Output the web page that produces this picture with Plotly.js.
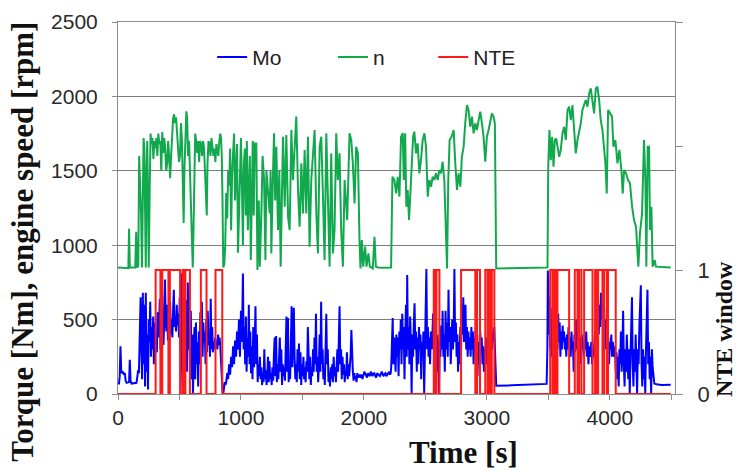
<!DOCTYPE html>
<html>
<head>
<meta charset="utf-8">
<script src="https://cdn.plot.ly/plotly-3.0.1.min.js"></script>
<style>
  html, body { margin: 0; padding: 0; background: #fff; }
  #chart { width: 736px; height: 471px; }
</style>
</head>
<body>
<div id="chart"></div>
<script>
// Engine speed n [rpm] over time [s], as [time, rpm] samples
const engineSpeed = [
  [0,850],[60,850],[84,845],[90,1110],[96,850],[140,850],[148,1090],[155,850],[165,860],[172,1600],
  [180,1450],[188,1200],[195,850],[202,1300],[208,1720],[214,1650],[220,1100],[226,850],[232,1500],[238,1700],
  [244,1300],[250,850],[258,1400],[265,1750],[272,1680],[280,1720],[288,1580],[296,1700],[304,1650],[312,1720],
  [320,1600],[328,1750],[336,1680],[344,1700],[352,1500],[360,1760],[368,1620],[376,1720],[384,1650],[392,1500],
  [400,1550],[408,1700],[416,1600],[424,1450],[432,1600],[440,1800],[448,1850],[456,1880],[464,1820],[472,1860],
  [480,1780],[488,1700],[496,1560],[504,1600],[512,1820],[520,1700],[528,1300],[534,1150],[540,1500],[548,1800],
  [556,1900],[562,1860],[570,1600],[578,1700],[586,1500],[594,1300],[602,1000],[608,850],[614,1100],[620,1500],
  [628,1750],[636,1700],[644,1620],[652,1700],[660,1560],[668,1700],[676,1680],[684,1600],[692,1700],[700,1650],
  [708,1500],[716,1400],[722,1200],[728,1550],[736,1700],[744,1680],[752,1600],[760,1720],[768,1640],[776,1600],
  [784,1650],[792,1560],[800,1680],[808,1650],[816,1600],[824,1700],[832,1750],[838,1720],[844,1600],[850,1300],
  [856,850],[864,870],[872,1000],[880,1350],[888,1180],[896,1500],[904,1400],[912,1650],[920,1100],[928,1480],
  [936,1600],[944,1750],[952,1300],[960,1550],[968,1680],[976,950],[984,1200],[992,1600],[1000,1720],[1008,1400],
  [1016,1000],[1024,1550],[1032,1650],[1040,1200],[1048,1700],[1056,1100],[1064,1450],[1072,1600],[1080,900],[1088,1350],
  [1096,1700],[1104,1200],[1112,1684],[1125,1684],[1134,833],[1145,1300],[1153,856],[1166,1214],[1176,1600],[1188,1438],
  [1199,900],[1207,1500],[1215,1393],[1234,1214],[1241,1500],[1247,945],[1258,1400],[1269,1752],[1278,1300],[1288,1662],
  [1301,1102],[1312,1500],[1323,856],[1332,1300],[1342,1729],[1356,1259],[1369,1740],[1383,1192],[1396,1102],[1410,1774],
  [1423,1438],[1437,1662],[1450,1864],[1464,1371],[1477,1124],[1491,1550],[1504,1214],[1518,1640],[1531,1214],[1545,1729],
  [1558,990],[1572,1438],[1586,1662],[1599,1774],[1613,1214],[1626,945],[1640,1662],[1653,1729],[1667,1326],[1680,900],
  [1694,1752],[1707,1214],[1721,856],[1734,1617],[1748,945],[1761,1102],[1775,1752],[1788,1438],[1802,1617],[1815,1102],
  [1829,856],[1843,1438],[1864,1169],[1883,1752],[1897,1707],[1910,1550],[1924,1281],[1937,1662],[1951,1617],[1964,1035],
  [1972,844],[1983,1035],[1994,856],[2010,990],[2021,856],[2037,945],[2048,856],[2072,844],[2086,1057],[2097,856],
  [2113,850],[2160,848],[2221,850],[2232,1460],[2248,1438],[2262,1348],[2275,1460],[2289,1326],[2302,1729],[2316,1752],
  [2324,1438],[2335,1752],[2345,1259],[2356,1371],[2367,1169],[2378,1348],[2389,1550],[2400,1729],[2410,1763],[2424,1617],
  [2437,1684],[2451,1483],[2464,1572],[2478,1707],[2492,1752],[2505,1662],[2519,1326],[2532,1438],[2546,1393],[2559,1460],
  [2573,1438],[2586,1483],[2600,1438],[2613,1505],[2627,1483],[2640,1561],[2654,1438],[2667,1102],[2676,844],[2686,1438],
  [2697,1707],[2713,1729],[2730,1774],[2743,1550],[2757,1371],[2770,1483],[2784,1393],[2797,1595],[2811,1662],[2824,1819],
  [2838,1942],[2851,1908],[2865,1796],[2879,1864],[2892,1752],[2906,1819],[2919,1774],[2933,1841],[2946,1897],[2960,1819],
  [2973,1729],[2987,1561],[3000,1729],[3014,1774],[3027,1819],[3041,1886],[3054,1864],[3065,1819],[3076,844],[3300,846],
  [3493,850],[3499,1528],[3509,1774],[3520,1572],[3531,1729],[3542,1528],[3553,1707],[3564,1718],[3574,1662],[3588,1595],
  [3601,1640],[3615,1752],[3629,1796],[3642,1707],[3656,1908],[3669,1931],[3683,1841],[3696,1942],[3710,1774],[3723,1617],
  [3737,1707],[3750,1752],[3764,1819],[3777,1908],[3791,1953],[3804,1976],[3818,1931],[3832,2020],[3845,2054],[3859,1976],
  [3872,1886],[3886,2054],[3899,2065],[3913,1976],[3926,1841],[3940,1774],[3953,1662],[3964,1550],[3975,1348],[3986,1908],
  [4002,1886],[4018,1864],[4029,1662],[4045,1707],[4062,1550],[4078,1640],[4094,1505],[4105,1348],[4116,1505],[4132,1483],
  [4148,1438],[4164,1416],[4181,1259],[4197,1169],[4213,1124],[4224,900],[4232,856],[4245,1080],[4262,1214],[4278,1707],
  [4289,1438],[4297,856],[4308,1662],[4319,1662],[4327,1102],[4338,1259],[4348,856],[4365,900],[4375,856],[4495,850]
];

// Engine torque Mo [Nm] over time [s], as [time, Nm] samples
const torque = [
  [0,70],[8,70],[14,120],[20,320],[26,160],[32,140],[40,150],[48,130],[56,140],[62,90],
  [70,75],[80,75],[90,80],[96,230],[102,90],[110,70],[120,70],[130,70],[140,70],[150,75],
  [158,120],[164,160],[170,140],[176,300],[180,450],[184,650],[190,300],[196,100],[202,680],[208,200],
  [214,600],[220,50],[226,680],[232,150],[238,400],[244,30],[250,500],[256,350],[262,620],[268,250],
  [274,450],[280,300],[286,520],[292,200],[298,480],[304,340],[310,420],[316,280],[322,550],[328,380],
  [334,450],[340,640],[346,300],[352,500],[358,720],[364,420],[370,330],[376,480],[382,770],[388,500],
  [394,420],[400,600],[406,360],[412,550],[418,450],[424,620],[430,400],[436,500],[442,380],[448,560],
  [454,700],[460,450],[466,520],[472,420],[478,600],[484,460],[490,540],[496,380],[502,650],[508,300],
  [514,810],[520,200],[526,10],[532,450],[538,100],[544,550],[550,250],[556,630],[562,150],[568,750],
  [574,300],[580,500],[586,200],[592,560],[598,100],[604,400],[610,0],[616,300],[622,450],[628,100],
  [634,480],[640,200],[646,350],[652,50],[658,420],[664,200],[670,550],[676,300],[682,620],[688,250],
  [694,480],[700,350],[706,420],[712,200],[718,500],[724,280],[730,560],[736,330],[742,400],[748,250],
  [754,640],[760,300],[766,450],[772,280],[778,350],[784,300],[790,380],[796,320],[802,360],[808,300],
  [814,400],[820,330],[826,380],[832,320],[838,250],[844,120],[850,30],[856,0],[862,40],[868,80],
  [874,60],[880,80],[888,140],[896,100],[904,200],[912,130],[920,250],[928,180],[936,320],[944,200],
  [952,360],[960,250],[968,420],[976,300],[984,500],[992,250],[1000,560],[1008,350],[1016,810],[1022,300],
  [1028,450],[1034,200],[1040,520],[1046,150],[1052,380],[1058,250],[1064,600],[1070,200],[1076,420],[1082,140],
  [1088,320],[1094,100],[1100,450],[1106,180],[1112,350],[1118,590],[1124,200],[1130,400],[1136,80],[1142,200],
  [1148,120],[1154,250],[1160,100],[1166,180],[1172,60],[1178,140],[1184,80],[1190,300],[1196,100],[1202,160],
  [1208,60],[1214,120],[1220,250],[1226,80],[1232,220],[1238,100],[1244,140],[1250,60],[1256,180],[1262,90],
  [1268,260],[1274,380],[1280,120],[1286,390],[1292,80],[1298,200],[1304,100],[1310,220],[1316,380],[1322,150],
  [1328,300],[1334,60],[1340,200],[1346,120],[1352,180],[1358,90],[1364,250],[1370,520],[1376,150],[1382,510],
  [1388,80],[1394,200],[1400,100],[1406,300],[1412,590],[1418,180],[1424,400],[1430,580],[1436,250],[1442,100],
  [1448,200],[1454,80],[1460,300],[1466,150],[1472,340],[1478,100],[1484,280],[1490,60],[1496,200],[1502,120],
  [1508,250],[1514,100],[1520,180],[1526,80],[1532,220],[1538,150],[1544,450],[1550,200],[1556,100],[1562,250],
  [1568,60],[1574,180],[1580,120],[1586,300],[1592,150],[1598,380],[1604,200],[1610,540],[1616,150],[1622,250],
  [1628,80],[1634,200],[1640,400],[1646,150],[1652,620],[1658,200],[1664,300],[1670,100],[1676,180],[1682,60],
  [1688,250],[1694,540],[1700,200],[1706,300],[1712,80],[1718,150],[1724,50],[1730,180],[1736,100],[1742,200],
  [1748,80],[1754,250],[1760,120],[1766,180],[1772,80],[1778,200],[1784,300],[1790,150],[1796,400],[1802,590],
  [1808,200],[1814,300],[1820,100],[1826,250],[1832,130],[1838,200],[1844,80],[1850,160],[1856,120],[1862,280],
  [1868,100],[1874,200],[1880,120],[1886,180],[1892,260],[1898,430],[1904,200],[1910,150],[1916,90],[1922,140],
  [1928,100],[1934,120],[1940,80],[1946,140],[1952,110],[1958,120],[1964,130],[1972,110],[1980,130],[1988,100],
  [1995,120],[2003,150],[2010,140],[2018,120],[2025,110],[2033,140],[2040,130],[2048,120],[2055,150],[2063,130],
  [2070,120],[2078,140],[2085,140],[2093,120],[2100,110],[2108,140],[2115,130],[2123,125],[2130,120],[2138,145],
  [2145,150],[2153,130],[2160,120],[2168,135],[2175,140],[2183,120],[2190,130],[2198,145],[2205,150],[2212,130],
  [2218,140],[2222,180],[2228,300],[2234,510],[2240,200],[2246,380],[2252,250],[2258,150],[2264,400],[2270,250],
  [2276,380],[2282,120],[2288,420],[2294,300],[2300,500],[2306,200],[2312,540],[2318,300],[2324,450],[2330,100],
  [2336,380],[2342,600],[2348,250],[2352,800],[2358,300],[2364,450],[2370,200],[2376,520],[2382,350],[2388,0],
  [2394,400],[2400,250],[2406,480],[2412,610],[2418,300],[2424,420],[2430,150],[2436,380],[2442,200],[2448,450],
  [2454,300],[2460,400],[2466,100],[2472,350],[2478,250],[2484,420],[2490,0],[2496,300],[2502,550],[2508,840],
  [2514,300],[2520,450],[2526,250],[2532,380],[2538,200],[2544,420],[2550,300],[2556,350],[2562,540],[2568,300],
  [2574,450],[2580,250],[2586,380],[2592,150],[2598,400],[2604,300],[2610,0],[2616,350],[2622,250],[2628,460],
  [2634,300],[2640,560],[2646,250],[2652,400],[2658,150],[2664,560],[2670,300],[2676,480],[2682,250],[2688,700],
  [2694,350],[2700,450],[2706,200],[2712,380],[2718,500],[2724,300],[2730,420],[2736,840],[2742,350],[2748,480],
  [2754,250],[2760,400],[2766,150],[2772,350],[2778,200],[2784,450],[2790,300],[2796,550],[2802,400],[2808,650],
  [2814,350],[2820,500],[2826,600],[2832,300],[2838,450],[2844,250],[2850,420],[2856,300],[2862,380],[2868,250],
  [2874,450],[2880,300],[2886,420],[2892,200],[2898,380],[2904,300],[2910,450],[2916,250],[2922,400],[2928,200],
  [2934,350],[2940,120],[2946,420],[2952,300],[2958,380],[2964,200],[2970,320],[2976,150],[2982,300],[2988,250],
  [2994,380],[3000,200],[3006,320],[3012,150],[3018,300],[3024,250],[3030,380],[3036,450],[3042,300],[3048,420],
  [3054,350],[3060,450],[3066,300],[3071,100],[3076,55],[3200,58],[3300,62],[3400,65],[3486,68],[3492,300],
  [3496,830],[3502,400],[3508,650],[3514,300],[3520,500],[3526,250],[3532,580],[3538,350],[3544,480],[3550,300],
  [3556,520],[3562,400],[3568,450],[3574,300],[3580,540],[3586,350],[3592,480],[3598,250],[3604,420],[3610,300],
  [3616,460],[3622,350],[3628,420],[3634,300],[3640,380],[3646,250],[3652,400],[3658,300],[3664,450],[3670,320],
  [3676,380],[3682,250],[3688,420],[3694,300],[3700,350],[3706,150],[3712,400],[3718,280],[3724,500],[3730,300],
  [3736,380],[3742,250],[3748,420],[3754,350],[3760,380],[3766,200],[3772,400],[3778,300],[3784,350],[3790,250],
  [3796,380],[3802,300],[3808,420],[3814,250],[3820,350],[3826,200],[3832,320],[3838,250],[3844,300],[3850,350],
  [3856,200],[3862,300],[3868,250],[3874,380],[3880,420],[3886,300],[3892,480],[3898,350],[3904,550],[3910,400],
  [3916,600],[3922,450],[3928,680],[3934,500],[3940,580],[3946,350],[3952,620],[3958,400],[3964,500],[3970,300],
  [3976,420],[3982,250],[3988,380],[3994,200],[4000,350],[4006,300],[4012,400],[4018,250],[4024,350],[4030,300],
  [4036,250],[4042,320],[4048,150],[4054,280],[4060,100],[4066,250],[4072,50],[4078,300],[4084,200],[4090,420],
  [4096,150],[4102,300],[4108,560],[4114,200],[4120,50],[4126,300],[4132,150],[4138,400],[4144,250],[4150,100],
  [4156,300],[4162,0],[4168,250],[4174,400],[4180,650],[4186,200],[4192,50],[4198,300],[4204,150],[4210,400],
  [4216,250],[4222,0],[4228,300],[4234,200],[4240,450],[4246,550],[4252,730],[4258,200],[4264,50],[4270,300],
  [4276,100],[4282,250],[4288,0],[4294,300],[4300,450],[4306,700],[4312,200],[4318,350],[4324,100],[4330,250],
  [4336,0],[4342,300],[4348,180],[4354,100],[4362,70],[4380,65],[4420,60],[4495,62]
];

// NTE window flag (0/1): switching times [s] and the state held from each time on
const nteTimes = [
  0, 306, 345, 360, 410, 422, 505, 525, 540, 548, 585, 674, 720, 793, 848,
  2568, 2580, 2590, 2614, 2790, 2906, 2920, 2944, 2987, 3006, 3015, 3028, 3040, 3061,
  3515, 3534, 3545, 3560, 3574, 3669, 3715, 3737, 3750, 3769, 3791, 3859,
  3880, 3894, 3905, 3940, 3953, 3975, 3985, 4048, 4495
];
const nteState = [
  0, 1, 0, 1, 0, 1, 0, 1, 0, 1, 0, 1, 0, 1, 0,
  1, 0, 1, 0, 1, 0, 1, 0, 1, 0, 1, 0, 1, 0,
  1, 0, 1, 0, 1, 0, 1, 0, 1, 0, 1, 0,
  1, 0, 1, 0, 1, 0, 1, 0, 0
];

// Axis ticks and labels
const timeTicks = [0, 500, 1000, 1500, 2000, 2500, 3000, 3500, 4000, 4500];
const timeTickText = ['0', '', '1000', '', '2000', '', '3000', '', '4000', ''];
const leftTicks = [0, 500, 1000, 1500, 2000, 2500];
const nteTicks = [0, 1, 2, 3];
const nteTickText = ['0', '1', '', ''];

const sans = 'Liberation Sans, Arial, sans-serif';
const serif = 'Liberation Serif, Times New Roman, serif';
const axisGrey = '#8c8c8c';

const traces = [
  {
    name: 'Mo', type: 'scatter', mode: 'lines',
    x: torque.map(p => p[0]), y: torque.map(p => p[1]),
    line: { color: '#0000ff', width: 2 },
    legend: 'legend'
  },
  {
    name: 'n', type: 'scatter', mode: 'lines',
    x: engineSpeed.map(p => p[0]), y: engineSpeed.map(p => p[1]),
    line: { color: '#12a94e', width: 2 },
    legend: 'legend2'
  },
  {
    name: 'NTE', type: 'scatter', mode: 'lines',
    x: nteTimes, y: nteState, yaxis: 'y2',
    line: { color: '#ff1a1a', width: 2, shape: 'hv' },
    legend: 'legend3'
  }
];

const legendBase = {
  orientation: 'h', yanchor: 'middle', xanchor: 'left', y: 0.905,
  bgcolor: 'rgba(0,0,0,0)', borderwidth: 0,
  font: { family: sans, size: 21, color: '#222' }
};

const layout = {
  width: 736, height: 471,
  margin: { l: 118, r: 61, t: 22, b: 77, pad: 0 },
  paper_bgcolor: '#ffffff', plot_bgcolor: '#ffffff',
  showlegend: true,
  legend: Object.assign({}, legendBase, { x: 0.169 }),
  legend2: Object.assign({}, legendBase, { x: 0.386 }),
  legend3: Object.assign({}, legendBase, { x: 0.566 }),
  xaxis: {
    range: [0, 4530], tickmode: 'array', tickvals: timeTicks, ticktext: timeTickText,
    ticks: 'outside', ticklen: 5, tickcolor: axisGrey, tickwidth: 1,
    showline: true, linecolor: axisGrey, linewidth: 1, mirror: true,
    showgrid: false, zeroline: false,
    tickfont: { family: sans, size: 21, color: '#2a2a2a' }
  },
  yaxis: {
    range: [0, 2500], tickmode: 'array', tickvals: leftTicks,
    ticks: 'outside', ticklen: 5, tickcolor: axisGrey, tickwidth: 1,
    showline: true, linecolor: axisGrey, linewidth: 1,
    showgrid: true, gridcolor: '#7d7d7d', gridwidth: 1, zeroline: false,
    ticklabelstandoff: 10,
    tickfont: { family: sans, size: 21, color: '#2a2a2a' }
  },
  yaxis2: {
    range: [0, 3], overlaying: 'y', side: 'right',
    tickmode: 'array', tickvals: nteTicks, ticktext: nteTickText,
    ticks: 'outside', ticklen: 7, tickcolor: axisGrey, tickwidth: 1,
    showline: true, linecolor: axisGrey, linewidth: 1,
    showgrid: false, zeroline: false,
    ticklabelstandoff: 10,
    tickfont: { family: sans, size: 22, color: '#2a2a2a' }
  },
  annotations: [
    {
      text: 'Torque [Nm], engine speed [rpm]', xref: 'paper', yref: 'paper',
      x: -0.172, y: 0.41, xanchor: 'center', yanchor: 'middle', textangle: -90,
      showarrow: false, font: { family: serif, size: 31, color: '#111', weight: 'bold' }
    },
    {
      text: 'Time [s]', xref: 'paper', yref: 'paper',
      x: 0.621, y: -0.156, xanchor: 'center', yanchor: 'middle',
      showarrow: false, font: { family: serif, size: 31, color: '#111', weight: 'bold' }
    },
    {
      text: 'NTE window', xref: 'paper', yref: 'paper',
      x: 1.087, y: 0.176, xanchor: 'center', yanchor: 'middle', textangle: -90,
      showarrow: false, font: { family: serif, size: 24, color: '#111', weight: 'bold' }
    }
  ]
};

Plotly.newPlot('chart', traces, layout, { staticPlot: true, displayModeBar: false });
</script>
</body>
</html>
